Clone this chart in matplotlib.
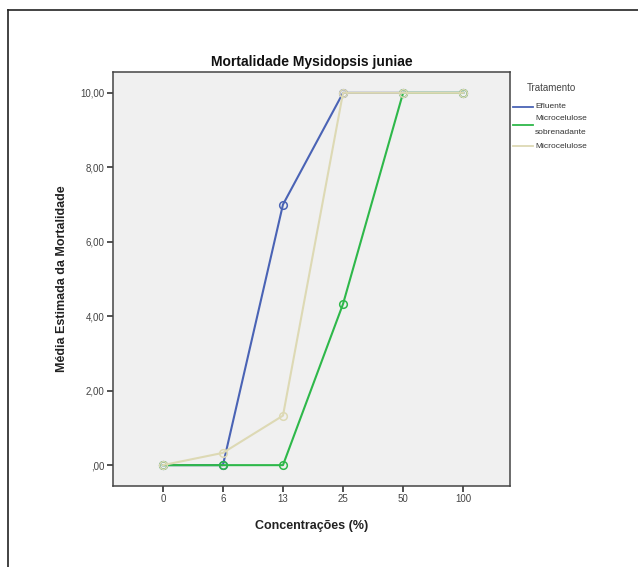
import matplotlib
matplotlib.use("Agg")
import matplotlib.pyplot as plt
from matplotlib.lines import Line2D

plt.rcParams['font.family'] = ['Liberation Sans', 'DejaVu Sans']

categories = ["0", "6", "13", "25", "50", "100"]
efluente = [0, 0, 7.0, 10.0, 10.0, 10.0]
micro_sobren = [0, 0, 0, 4.33, 10.0, 10.0]
microcelulose = [0, 0.33, 1.33, 10.0, 10.0, 10.0]
series_names = ["Efluente", "Microcelulose\nsobrenadante", "Microcelulose"]
yticks = [0, 2, 4, 6, 8, 10]
ytick_labels = [",00", "2,00", "4,00", "6,00", "8,00", "10,00"]

colors = ["#4a63b5", "#2eb84a", "#ddd9b4"]

W, H = 638, 567
fig = plt.figure(figsize=(W / 100, H / 100), dpi=100)
fig.patch.set_facecolor("white")

# outer frame lines (top and left)
fig.add_artist(Line2D([8 / W, 8 / W], [0, 1 - 10 / H], color="#222222", lw=1.2, transform=fig.transFigure))
fig.add_artist(Line2D([8 / W, 1], [1 - 10 / H, 1 - 10 / H], color="#222222", lw=1.2, transform=fig.transFigure))

left, right, top, bottom = 113, 510, 72, 486
ax = fig.add_axes([left / W, 1 - bottom / H, (right - left) / W, (bottom - top) / H])
ax.set_facecolor("#f0f0f0")

x = list(range(len(categories)))

# draw order: blue, green, beige
for vals, c in [(efluente, colors[0]),
                (micro_sobren, colors[1]),
                (microcelulose, colors[2])]:
    ax.plot(x, vals, color=c, lw=1.5, marker="o", markersize=5.5,
            markerfacecolor="none", markeredgecolor=c, markeredgewidth=1.1)

ax.set_xlim(-0.83, 5.78)
ax.set_ylim(-0.56, 10.56)
ax.set_xticks(x)
ax.set_xticklabels(categories)
ax.set_yticks(yticks)
ax.set_yticklabels(ytick_labels)
ax.tick_params(axis="both", direction="out", length=4, width=1.3, color="#444444",
               labelsize=7, labelcolor="#444444", pad=2)
for s in ax.spines.values():
    s.set_color("#444444")
    s.set_linewidth(1.1)

ax.set_title("Mortalidade Mysidopsis juniae", fontsize=10, fontweight="bold", color="#111111", pad=4)
ax.set_xlabel("Concentrações (%)", fontsize=9, fontweight="bold", color="#222222", labelpad=11)
ax.set_ylabel("Média Estimada da Mortalidade", fontsize=9, fontweight="bold", color="#222222", labelpad=9)

# legend, drawn manually
fig.text(527 / W, 1 - 88 / H, "Tratamento", fontsize=7, color="#444444", va="center", ha="left")
leg_items = [(107, [107], colors[0], ["Efluente"]),
             (125, [119, 132], colors[1], ["Microcelulose", "sobrenadante"]),
             (146, [146], colors[2], ["Microcelulose"])]
for ly, tys, c, texts in leg_items:
    fig.add_artist(Line2D([513 / W, 533 / W], [1 - ly / H, 1 - ly / H], color=c, lw=1.3,
                          transform=fig.transFigure))
    for ty, t in zip(tys, texts):
        fig.text(535 / W, 1 - ty / H, t, fontsize=6, color="#333333", va="center", ha="left")

fig.savefig("out.png", dpi=100)
